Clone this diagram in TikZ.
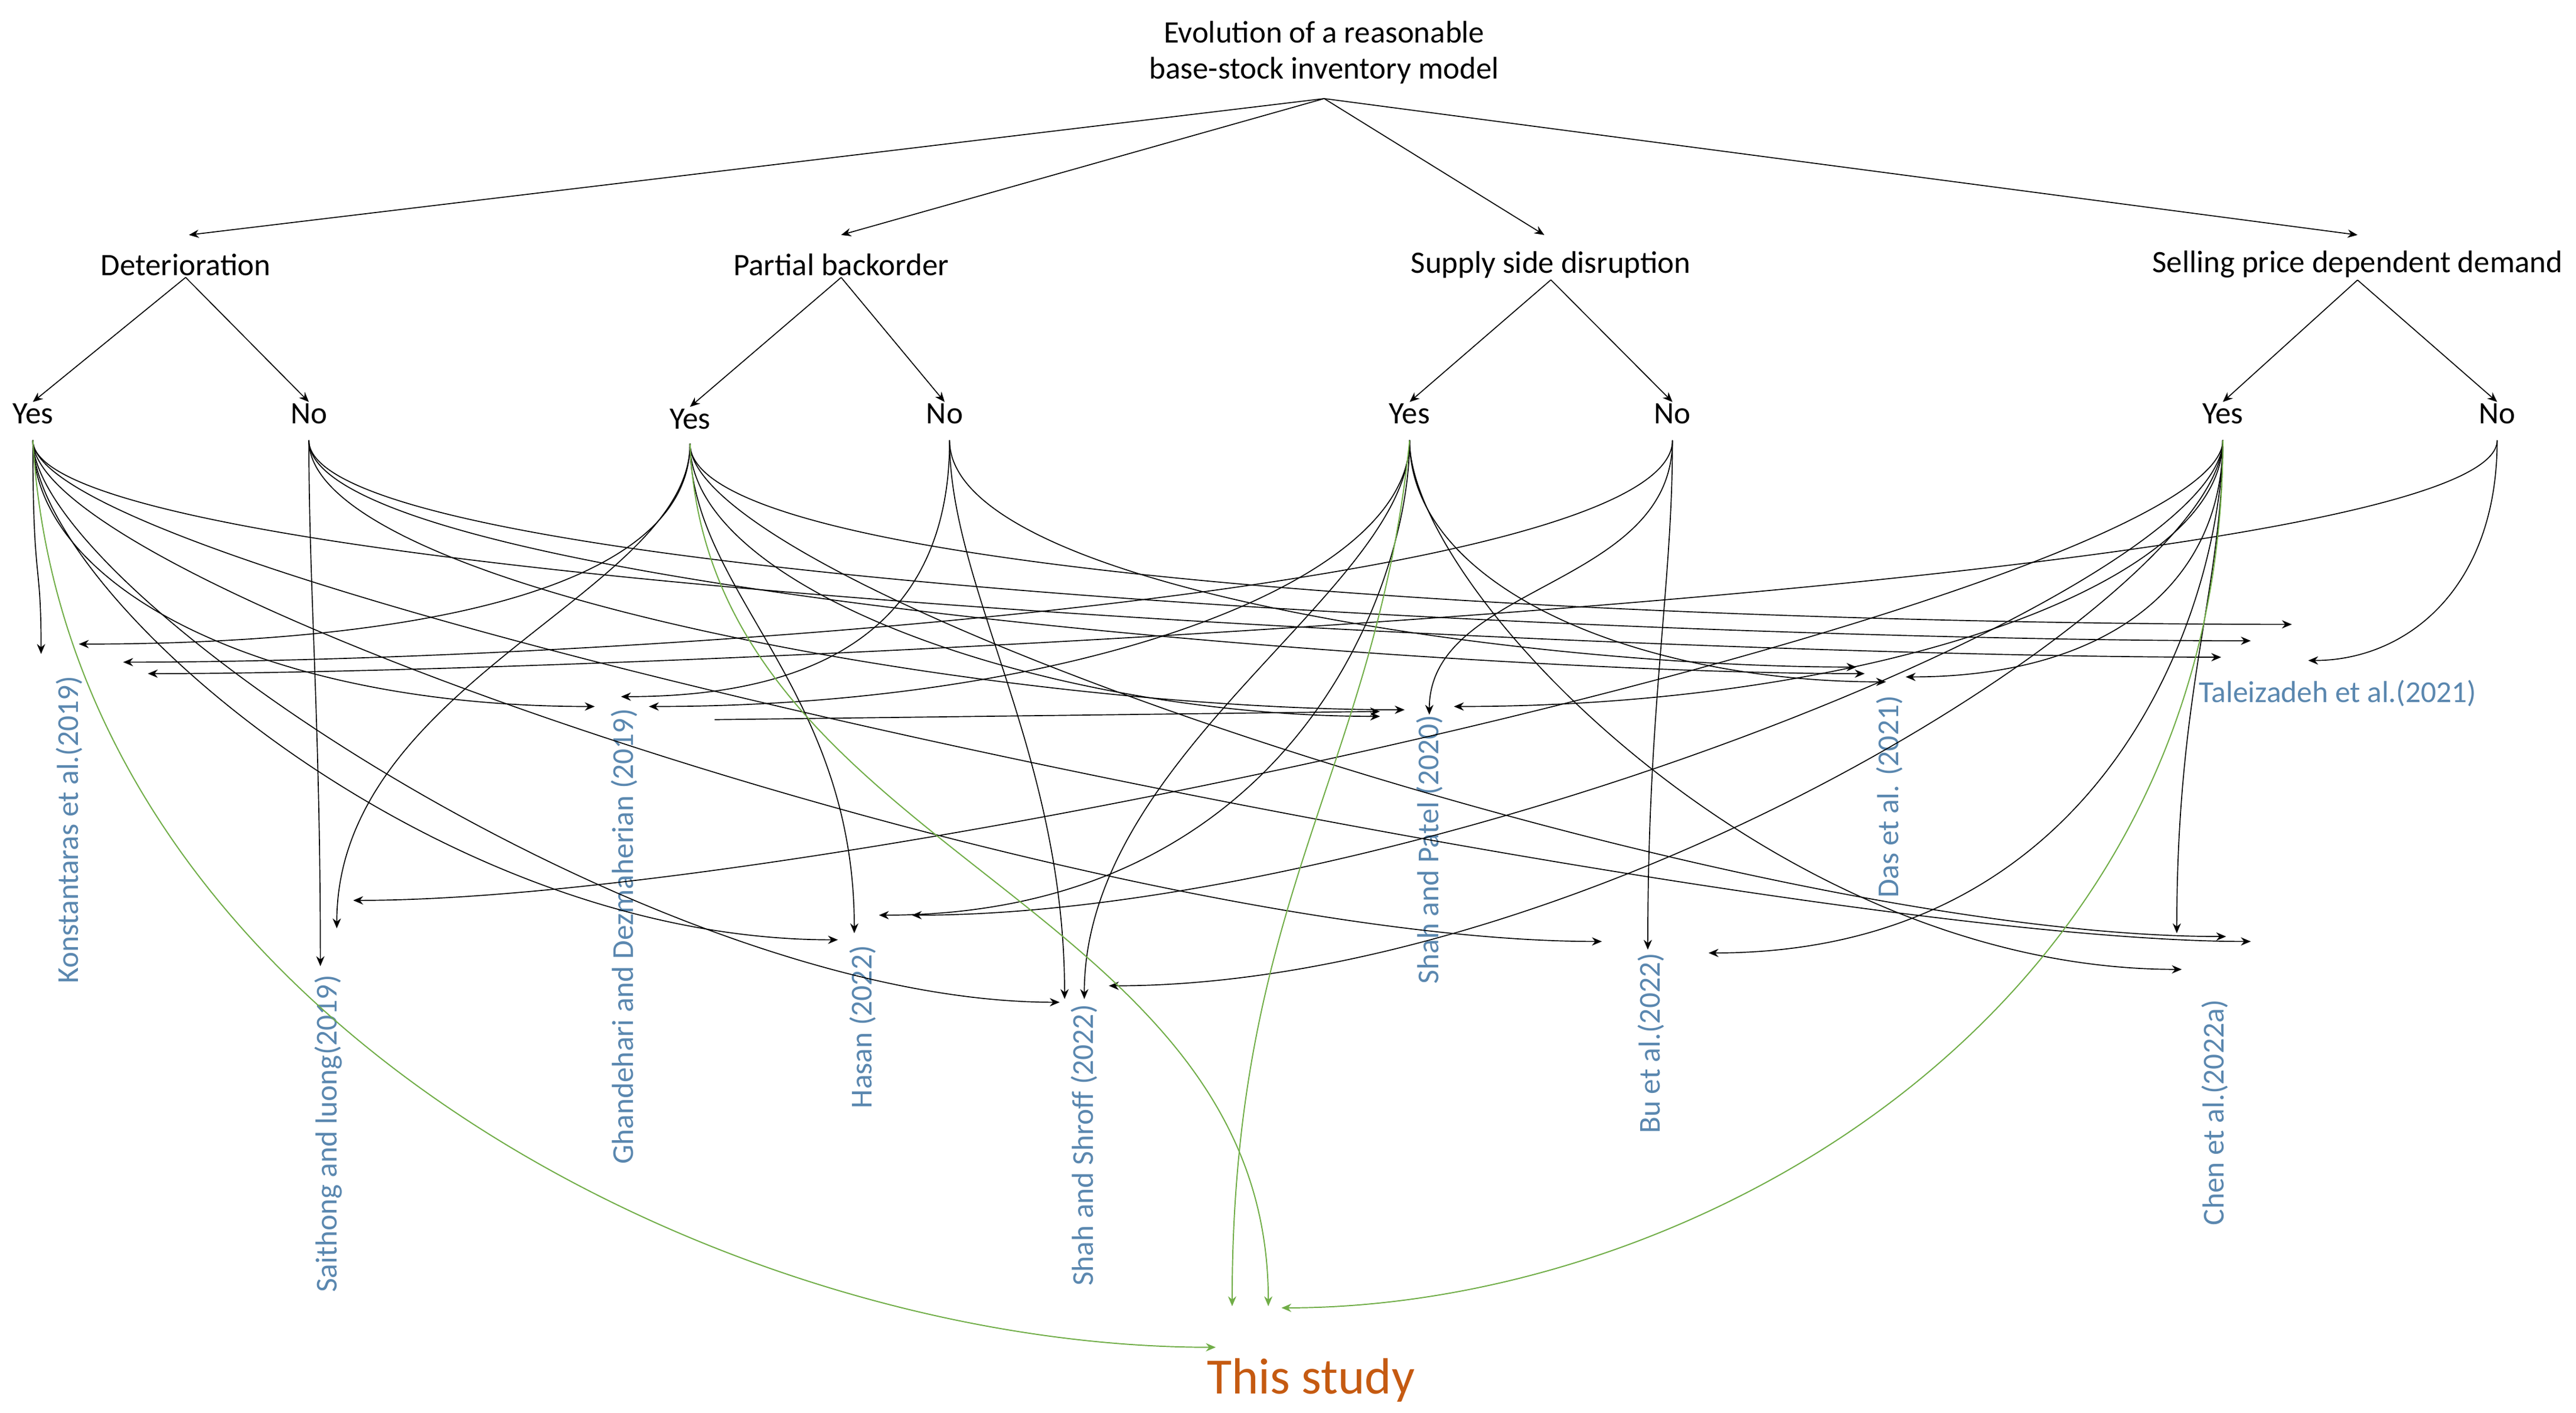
\documentclass[tikz,border=0pt]{standalone}
\usepackage{fontspec}
\setmainfont{Carlito}
\usetikzlibrary{arrows.meta}
\definecolor{paper}{RGB}{90,135,175}
\definecolor{grn}{RGB}{112,173,71}
\definecolor{org}{RGB}{197,90,17}
\begin{document}
\begin{tikzpicture}[x=1pt,y=1pt,
  lbl/.style={font=\fontsize{19}{22}\selectfont,inner sep=1pt},
  pap/.style={font=\fontsize{18.5}{21}\selectfont,text=paper,rotate=90,inner sep=0pt},
  ar/.style={-{Stealth[length=6pt,width=5pt]},black,line width=0.6pt},
  ga/.style={-{Stealth[length=6pt,width=5pt]},grn,line width=0.7pt}]
\useasboundingbox (0,0) rectangle (1568,-860);
\node[lbl,align=center] (title) at (806,-32) {Evolution of a reasonable\\base-stock inventory model};
\node[lbl] (det) at (113,-161) {Deterioration};
\node[lbl] (pb) at (512,-161) {Partial backorder};
\node[lbl] (ssd) at (944,-161) {Supply side disruption};
\node[lbl] (sp) at (1435,-161) {Selling price dependent demand};
\coordinate (tb) at (806,-60);
\draw[ar] (tb) -- (115,-143);
\draw[ar] (tb) -- (512,-143);
\draw[ar] (tb) -- (940,-143);
\draw[ar] (tb) -- (1435,-143);
\node[lbl] (dy) at (20,-252) {Yes};
\node[lbl] (dn) at (188,-252) {No};
\node[lbl] (py) at (420,-255) {Yes};
\node[lbl] (pn) at (575,-252) {No};
\node[lbl] (sy) at (858,-252) {Yes};
\node[lbl] (sn) at (1018,-252) {No};
\node[lbl] (ly) at (1353,-252) {Yes};
\node[lbl] (ln) at (1520,-252) {No};
\foreach \p/\a/\b in {det/dy/dn,pb/py/pn,ssd/sy/sn,sp/ly/ln}{
  \draw[ar] (\p.south) -- (\a.north);
  \draw[ar] (\p.south) -- (\b.north);}
\coordinate (DY) at (20,-268); \coordinate (DN) at (188,-268);
\coordinate (PY) at (420,-270); \coordinate (PN) at (578,-268);
\coordinate (SY) at (858,-268); \coordinate (SN) at (1018,-268);
\coordinate (LY) at (1353,-268); \coordinate (LN) at (1520,-268);
% papers
\node[pap] (k) at (42,-505) {Konstantaras et al.(2019)};
\node[pap] (sa) at (200,-690) {Saithong and luong(2019)};
\node[pap] (gh) at (380,-570) {Ghandehari and Dezmaherian (2019)};
\node[pap] (ha) at (525,-625) {Hasan (2022)};
\node[pap] (ss) at (660,-697) {Shah and Shroff (2022)};
\node[pap] (pa) at (870,-517) {Shah and Patel (2020)};
\node[pap] (da) at (1150,-485) {Das et al. (2021)};
\node[pap] (bu) at (1005,-635) {Bu et al.(2022)};
\node[pap] (ch) at (1348,-677) {Chen et al.(2022a)};
\node[font=\fontsize{18.5}{21}\selectfont,text=paper] (ta) at (1423,-422) {Taleizadeh et al.(2021)};
\node[font=\fontsize{31}{36}\selectfont,text=org] (ts) at (798,-840) {This study};
% arrows
\foreach \s/\x/\y/\cx/\cy in {
 DY/25/398/0/60, PY/48/392/200/0, SN/75/403/300/0, LN/90/410/300/0,
 DN/195/588/0/150, PY/205/565/0/150, LY/215/548/300/0,
 DY/362/430/-200/0, PN/378/424/150/0, SY/395/430/250/0,
 PY/520/568/0/150, DY/510/572/-250/0, SY/535/557/250/0, LY/555/557/300/0,
 PN/648/608/0/150, SY/660/608/0/150, LY/675/600/300/0, DY/645/610/-250/0,
 SN/870/435/0/80, DN/855/432/-250/0, LY/885/430/250/0, PY/840/436/-200/0,
 DN/1135/410/-250/0, SY/1148/415/-150/0, LY/1160/412/120/0, PN/1130/406/-200/0,
 SN/1003/578/0/150, DY/975/573/-300/0, LY/1040/580/250/0,
 LY/1325/568/0/150, PY/1355/570/-300/0, DY/1370/573/-300/0, SY/1328/590/-250/0,
 PY/1395/380/-300/0, DN/1370/390/-300/0, DY/1352/400/-300/0, LN/1405/402/60/0}
 {\draw[ar] (\s) .. controls +(0,-90) and +(\cx,\cy) .. (\x,-\y);}
\draw[ar] (435,-438) -- (840,-433);
\draw[ga] (DY) .. controls +(20,-350) and +(-300,0) .. (740,-820);
\draw[ga] (PY) .. controls +(10,-250) and +(0,250) .. (772,-795);
\draw[ga] (SY) .. controls +(-20,-200) and +(0,250) .. (750,-795);
\draw[ga] (LY) .. controls +(0,-350) and +(250,0) .. (780,-796);
\end{tikzpicture}
\end{document}
